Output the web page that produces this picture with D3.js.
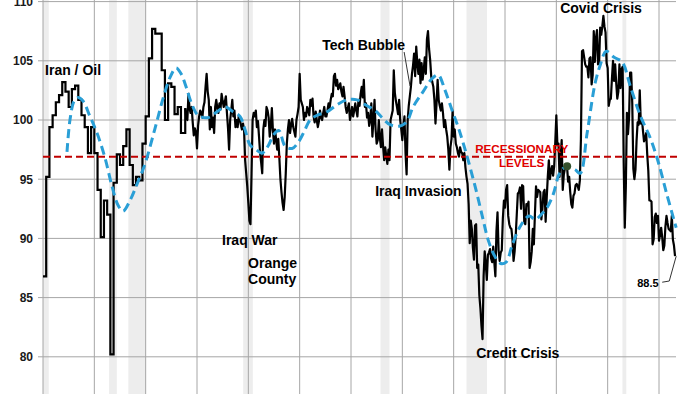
<!DOCTYPE html>
<html>
<head>
<meta charset="utf-8">
<script src="https://cdn.jsdelivr.net/npm/d3@7"></script>
<style>
    body { margin: 0; background: #fff; }
    svg { display: block; font-family: "Liberation Sans", Arial, sans-serif; }
</style>
</head>
<body>
<div id="chart"></div>
<script>
// Index readings, quarterly from 1975 Q1 to 1985 Q4
const quarterlyIndex = [
    86.8, 95.2, 99.4, 100.4,
    101.5, 102.1, 103.2, 102.4,
    101.1, 102.6, 102.9, 101.7,
    100.4, 99.4, 97.2, 99.4,
    97.2, 94.1, 90.1, 93.2,
    92.0, 80.2, 94.7, 97.1,
    96.2, 97.8, 99.2, 96.2,
    94.5, 95.2, 94.9, 98.0,
    100.3, 105.2, 107.7, 107.3,
    107.3, 104.2, 100.0, 103.1,
    102.8, 100.5, 101.1, 98.9
];

// Index readings, monthly from Jan 1986 to Mar 2024
const monthlyIndex = [
    101.0, 100.2, 100.0, 102.2, 101.0, 100.6, 101.1, 99.8, 98.7, 99.3, 99.0, 97.6,     // 1986
    99.5, 100.3, 100.8, 100.6, 100.2, 101.1, 101.5, 102.8, 103.9, 102.4, 101.7, 99.2,  // 1987
    101.1, 99.4, 100.2, 98.9, 101.1, 101.7, 101.0, 100.6, 101.4, 100.9, 102.2, 101.6,  // 1988
    101.1, 101.5, 102.0, 100.6, 99.3, 97.5, 100.0, 100.8, 101.7, 100.3, 100.8, 99.4,   // 1989
    100.0, 99.4, 100.3, 100.1, 99.6, 99.2, 99.7, 99.2, 96.6, 95.5, 94.4, 93.0,         // 1990
    91.5, 91.2, 95.5, 100.0, 100.6, 100.3, 100.8, 99.4, 99.9, 98.6, 97.2, 96.4,        // 1991
    95.5, 99.2, 100.0, 99.5, 101.1, 100.8, 100.2, 98.6, 99.5, 101.0, 99.1, 98.0,       // 1992
    99.2, 98.3, 97.5, 98.4, 96.8, 95.0, 93.9, 93.0, 92.4, 93.5, 95.5, 98.0,            // 1993
    99.2, 100.0, 98.9, 99.6, 100.1, 99.4, 99.0, 98.6, 100.0, 100.5, 101.1, 103.9,      // 1994
    101.7, 101.4, 101.1, 100.0, 100.6, 100.3, 101.1, 100.8, 100.4, 101.7, 101.2, 101.8, // 1995
    100.3, 99.8, 100.7, 100.0, 99.4, 99.9, 100.8, 100.2, 100.0, 100.6, 101.1, 100.3,   // 1996
    100.3, 100.8, 101.4, 101.0, 101.7, 102.2, 102.0, 103.7, 103.9, 102.9, 103.4, 102.6, // 1997
    102.8, 103.1, 102.4, 102.0, 102.8, 102.0, 101.1, 100.6, 101.0, 101.4, 100.0, 100.5, // 1998
    101.1, 100.3, 100.8, 101.4, 100.8, 100.3, 101.7, 101.2, 102.2, 102.8, 101.9, 103.4, // 1999
    101.1, 101.4, 100.2, 100.6, 99.5, 100.0, 101.4, 98.6, 100.0, 101.7, 99.2, 98.0,    // 2000
    98.3, 100.0, 98.5, 97.7, 99.2, 97.8, 96.6, 97.7, 96.9, 96.3, 97.5, 96.6,           // 2001
    100.0, 100.4, 100.8, 104.2, 102.3, 101.6, 101.1, 100.5, 101.7, 100.0, 99.2, 98.3,  // 2002
    99.5, 100.3, 97.2, 95.4, 100.0, 101.2, 102.0, 102.8, 103.9, 104.6, 105.6, 103.7,   // 2003
    106.2, 104.8, 103.9, 105.1, 103.1, 104.8, 103.4, 104.2, 105.3, 103.9, 106.8, 107.5, // 2004
    106.0, 105.1, 103.7, 103.2, 102.8, 101.7, 99.7, 101.4, 103.4, 101.7, 101.2, 100.8, // 2005
    101.4, 100.6, 99.4, 100.0, 99.2, 98.6, 97.5, 95.8, 97.7, 98.4, 100.8, 98.6,        // 2006
    99.2, 98.0, 97.7, 97.2, 96.9, 97.7, 97.3, 97.2, 96.6, 97.2, 96.0, 95.2,            // 2007
    94.6, 92.9, 89.6, 91.5, 90.8, 89.2, 88.2, 91.1, 91.2, 87.5, 87.8, 85.2,            // 2008
    84.1, 82.6, 81.5, 86.8, 88.9, 87.9, 86.5, 88.6, 88.8, 89.1, 88.3, 88.0,            // 2009
    89.3, 88.0, 86.8, 90.6, 92.2, 89.0, 88.1, 88.8, 89.0, 91.7, 93.2, 92.6,            // 2010
    94.1, 94.5, 91.9, 91.2, 90.9, 90.8, 89.9, 88.1, 88.9, 90.2, 92.0, 93.8,            // 2011
    93.9, 94.3, 92.5, 94.5, 94.4, 91.4, 91.2, 92.9, 92.8, 93.1, 87.5, 88.0,            // 2012
    88.9, 90.8, 89.5, 92.1, 94.4, 93.5, 94.1, 94.0, 93.9, 91.6, 92.5, 93.9,            // 2013
    94.1, 91.4, 93.4, 95.2, 96.6, 95.0, 95.7, 96.1, 95.3, 96.1, 98.1, 100.4,           // 2014
    97.9, 98.0, 95.2, 96.9, 98.3, 94.1, 95.4, 95.9, 96.1, 96.1, 94.8, 95.2,            // 2015
    93.9, 92.9, 92.6, 93.6, 93.8, 94.5, 94.6, 94.4, 94.1, 94.9, 98.4, 105.8,           // 2016
    105.9, 105.3, 104.7, 104.5, 104.5, 103.6, 105.2, 105.3, 103.0, 103.8, 107.5, 104.9, // 2017
    106.9, 107.6, 104.7, 104.8, 107.8, 107.2, 107.9, 108.8, 107.9, 107.4, 104.8, 104.4, // 2018
    101.2, 101.7, 101.8, 103.5, 105.0, 103.3, 104.7, 103.1, 101.8, 102.4, 104.7, 102.7, // 2019
    104.3, 104.5, 96.4, 90.9, 94.4, 100.6, 98.8, 100.2, 104.0, 104.0, 101.4, 95.9,     // 2020
    95.0, 95.8, 98.2, 99.8, 99.6, 102.5, 99.7, 100.1, 99.1, 98.2, 98.4, 98.9,          // 2021
    97.1, 95.7, 93.2, 93.2, 93.1, 89.5, 89.9, 91.8, 92.1, 91.3, 91.9, 89.8,            // 2022
    90.3, 90.9, 90.1, 89.0, 89.4, 91.0, 91.9, 91.3, 90.8, 90.7, 90.6, 91.9,            // 2023
    89.9, 89.4, 88.5                                                                   // 2024
];

// Smoothed trend (blue dashed), [year, value]
const trendPoints = [
    [1976.87, 97.3], [1977.10, 100.0], [1977.42, 101.6], [1977.73, 101.9], [1978.12, 101.6],
    [1978.66, 100.3], [1979.21, 98.9], [1979.83, 96.8], [1980.38, 94.4], [1980.85, 92.8],
    [1981.24, 92.3], [1981.78, 93.2], [1982.33, 94.6], [1982.95, 96.3], [1983.73, 99.3],
    [1984.35, 101.8], [1984.90, 103.6], [1985.37, 104.4], [1985.76, 103.9], [1986.15, 102.8],
    [1986.61, 101.3], [1987.08, 100.4], [1987.86, 100.2], [1988.56, 100.7], [1989.19, 101.1],
    [1989.81, 100.7], [1990.35, 100.3], [1990.74, 99.2], [1991.13, 97.9], [1991.60, 97.5],
    [1992.07, 97.2], [1992.54, 97.8], [1993.00, 98.8], [1993.39, 99.1], [1993.86, 97.8],
    [1994.41, 97.6], [1994.88, 98.1], [1995.34, 99.0], [1995.81, 100.0], [1996.36, 100.4],
    [1997.14, 100.7], [1997.92, 101.3], [1998.70, 101.7], [1999.47, 101.7], [2000.25, 101.2],
    [2000.88, 100.8], [2001.42, 100.2], [2002.05, 99.6], [2002.83, 99.5], [2003.37, 99.9],
    [2003.84, 101.1], [2004.62, 102.4], [2005.32, 103.5], [2005.79, 103.8], [2006.33, 102.5],
    [2006.88, 100.8], [2007.35, 99.4], [2007.81, 97.8], [2008.28, 96.0], [2008.83, 93.7],
    [2009.29, 91.6], [2009.68, 89.9], [2010.15, 88.6], [2010.62, 87.9], [2011.09, 88.0],
    [2011.55, 89.4], [2012.18, 91.0], [2012.88, 91.9], [2013.35, 91.6], [2013.89, 92.1],
    [2014.28, 92.6], [2014.75, 93.7], [2015.30, 95.6], [2015.84, 96.1], [2016.47, 95.8],
    [2016.86, 95.5], [2017.40, 98.9], [2018.02, 103.1], [2018.41, 104.6], [2018.88, 105.8],
    [2019.50, 105.3], [2020.13, 104.9], [2020.75, 102.9], [2021.53, 100.4], [2022.31, 98.5],
    [2022.93, 96.5], [2023.64, 93.6], [2024.34, 90.9]
];

// Recession shading (decimal years)
const recessionStart = [1975.0, 1980.15, 1981.65, 1990.6, 2001.3, 2008.0, 2020.15];
const recessionEnd   = [1975.45, 1980.75, 1983.0, 1991.35, 2002.0, 2009.6, 2020.45];

const yTicks = [80, 85, 90, 95, 100, 105, 110];
const gridYears = [1975, 1979, 1983, 1987, 1991, 1995, 1999, 2003, 2007, 2011, 2015, 2019, 2023];
const recessionLevel = 96.9;
const markPoint = [2015.84, 96.1];

// Text notes, anchored in data coordinates
const notes = [
    {text: 'Iran / Oil', year: 1975.16, value: 103.8, anchor: 'start'},
    {text: 'Tech Bubble', year: 1996.75, value: 105.9, anchor: 'start'},
    {text: 'Iraq War', year: 1988.95, value: 89.44, anchor: 'start'},
    {text: 'Orange', year: 1990.98, value: 87.5, anchor: 'start'},
    {text: 'County', year: 1990.98, value: 86.15, anchor: 'start'},
    {text: 'Iraq Invasion', year: 2000.88, value: 93.58, anchor: 'start'},
    {text: 'Covid Crisis', year: 2015.3, value: 109.04, anchor: 'start'},
    {text: 'Credit Crisis', year: 2008.75, value: 79.9, anchor: 'start'}
];

const width = 700, height = 394;
const plotLeft = 43, plotRight = 676;

const svg = d3.select('#chart').append('svg')
    .attr('width', width)
    .attr('height', height);

const x = d3.scaleLinear().domain([1975, 2023]).range([43, 659]);
const y = d3.scaleLinear().domain([80, 110]).range([356.8, 1.6]);

// Recession bars
svg.selectAll('.recession')
    .data(d3.zip(recessionStart, recessionEnd))
    .join('rect')
    .attr('class', 'recession')
    .attr('x', d => x(d[0]))
    .attr('width', d => x(d[1]) - x(d[0]))
    .attr('y', 0)
    .attr('height', height)
    .attr('fill', '#ededed');

// Grid
svg.selectAll('.vgrid')
    .data(gridYears)
    .join('line')
    .attr('class', 'vgrid')
    .attr('x1', d => x(d)).attr('x2', d => x(d))
    .attr('y1', 0).attr('y2', height)
    .style('stroke', '#a6a6a6')
    .style('stroke-width', 1);

svg.selectAll('.hgrid')
    .data(yTicks)
    .join('line')
    .attr('class', 'hgrid')
    .attr('x1', plotLeft - 5).attr('x2', plotRight)
    .attr('y1', d => y(d)).attr('y2', d => y(d))
    .style('stroke', '#a6a6a6')
    .style('stroke-width', 1);

// Y axis labels
const yAxis = svg.append('g')
    .attr('transform', `translate(${plotLeft},0)`)
    .call(d3.axisLeft(y).tickValues(yTicks).tickSize(0).tickPadding(10));
yAxis.select('.domain').remove();
yAxis.selectAll('text')
    .style('font-family', '"Liberation Sans", Arial, sans-serif')
    .style('font-size', '12px')
    .style('font-weight', 'bold')
    .style('fill', '#1a1a1a');

// Index line: quarterly steps first, then monthly
const quarterPts = quarterlyIndex.map((v, k) => [1975 + k / 4, v]);
const monthPts = monthlyIndex.map((v, i) => [1986 + (i + 1) / 12, v]);
quarterPts.push(monthPts[0]);

svg.append('path')
    .datum(quarterPts)
    .attr('d', d3.line().x(d => x(d[0])).y(d => y(d[1])).curve(d3.curveStepAfter))
    .attr('fill', 'none')
    .style('stroke', '#000')
    .style('stroke-width', 2.2);

svg.append('path')
    .datum(monthPts)
    .attr('d', d3.line().x(d => x(d[0])).y(d => y(d[1])))
    .attr('fill', 'none')
    .style('stroke', '#000')
    .style('stroke-width', 2.2)
    .style('stroke-linejoin', 'round');

// Recessionary level
svg.append('line')
    .attr('x1', plotLeft).attr('x2', plotRight + 5)
    .attr('y1', y(recessionLevel)).attr('y2', y(recessionLevel))
    .style('stroke', '#c00000')
    .style('stroke-width', 2)
    .style('stroke-dasharray', '7,4');

// Trend line
svg.append('path')
    .datum(trendPoints)
    .attr('d', d3.line().x(d => x(d[0])).y(d => y(d[1])).curve(d3.curveCatmullRom.alpha(0.5)))
    .attr('fill', 'none')
    .style('stroke', '#2a9fd6')
    .style('stroke-width', 3)
    .style('stroke-dasharray', '9,5');

svg.append('circle')
    .attr('cx', x(markPoint[0]))
    .attr('cy', y(markPoint[1]))
    .attr('r', 4)
    .attr('fill', '#34502c');

// Notes
svg.selectAll('.note')
    .data(notes)
    .join('text')
    .attr('class', 'note')
    .attr('x', d => x(d.year))
    .attr('y', d => y(d.value))
    .attr('text-anchor', d => d.anchor)
    .style('font-size', '14px')
    .style('font-weight', 'bold')
    .style('fill', '#000')
    .text(d => d.text);

// Tech bubble pointer
svg.append('path')
    .datum([[2003.14, 105.74], [2003.6, 102.87]])
    .attr('d', d3.line().x(d => x(d[0])).y(d => y(d[1])))
    .style('stroke', '#333')
    .style('stroke-width', 1);

// Recessionary label
svg.selectAll('.level-label')
    .data([['RECESSIONARY', 97.21], ['LEVELS', 96.03]])
    .join('text')
    .attr('class', 'level-label')
    .attr('x', x(2012.3))
    .attr('y', d => y(d[1]))
    .attr('text-anchor', 'middle')
    .style('font-size', '11.7px')
    .style('font-weight', 'bold')
    .style('fill', '#e00000')
    .text(d => d[0]);

// Last value callout
const lastValue = monthlyIndex[monthlyIndex.length - 1];
svg.append('text')
    .attr('x', x(2021.3))
    .attr('y', y(85.9))
    .style('font-size', '11px')
    .style('font-weight', 'bold')
    .text(lastValue.toFixed(1));

svg.append('path')
    .datum([[2023.25, 86.3], [2023.8, 86.4], [2024.34, lastValue]])
    .attr('d', d3.line().x(d => x(d[0])).y(d => y(d[1])))
    .attr('fill', 'none')
    .style('stroke', '#333')
    .style('stroke-width', 1);
</script>
</body>
</html>
